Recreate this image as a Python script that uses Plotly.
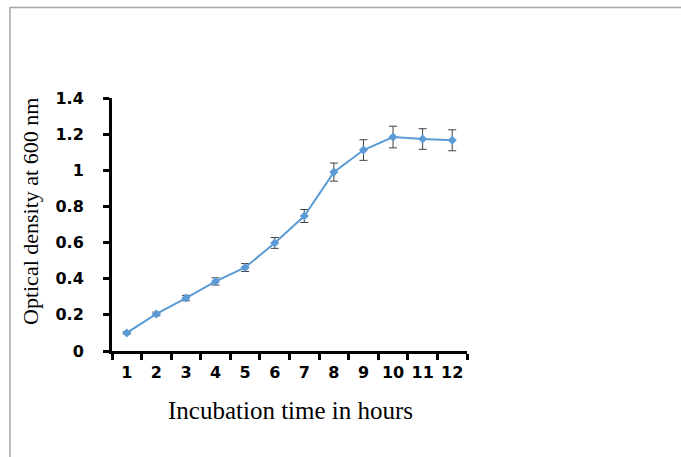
import plotly.graph_objects as go

hours = ["1", "2", "3", "4", "5", "6", "7", "8", "9", "10", "11", "12"]
od600 = [0.10, 0.205, 0.293, 0.385, 0.462, 0.598, 0.747, 0.99, 1.112, 1.184, 1.173, 1.166]
od_err = [0.006, 0.01, 0.015, 0.02, 0.022, 0.03, 0.036, 0.05, 0.057, 0.06, 0.057, 0.058]
y_ticks = [0, 0.2, 0.4, 0.6, 0.8, 1, 1.2, 1.4]
y_ticktext = ["0", "0.2", "0.4", "0.6", "0.8", "1", "1.2", "1.4"]

W, H = 681, 457
L, R, T, B = 112, 214, 98, 106
pw, ph = W - L - R, H - T - B

def px_x(p):
    return (p - L) / pw

def px_y(p):
    return (H - B - p) / ph

fig = go.Figure()
fig.add_trace(go.Scatter(
    x=hours, y=od600,
    mode="lines+markers",
    line=dict(color="#5B9BD5", width=2),
    marker=dict(symbol="diamond", size=7, color="#5B9BD5"),
    error_y=dict(type="data", array=od_err, visible=True,
                 color="#404040", thickness=1, width=4),
    showlegend=False,
))

tick_font = dict(family="DejaVu Sans", size=16, color="black", weight="bold")

fig.update_layout(
    width=W, height=H,
    margin=dict(l=L, r=R, t=T, b=B, autoexpand=False),
    paper_bgcolor="white", plot_bgcolor="white",
    xaxis=dict(
        type="category", automargin=False, tickangle=0,
        range=[-0.5, len(hours) - 0.5],
        showgrid=False, zeroline=False,
        showline=True, linecolor="black", linewidth=3,
        ticks="outside", tickson="boundaries", ticklen=6, tickwidth=3, tickcolor="black",
        tickfont=tick_font,
        ticklabelstandoff=5,
    ),
    yaxis=dict(
        range=[0, 1.4], automargin=False,
        tickvals=y_ticks, ticktext=y_ticktext,
        showgrid=False, zeroline=False,
        showline=True, linecolor="black", linewidth=3,
        ticks="outside", ticklen=6, tickwidth=3, tickcolor="black",
        tickfont=tick_font,
        ticklabelstandoff=16,
    ),
    shapes=[
        dict(type="line", xref="paper", yref="paper",
             x0=px_x(10), x1=px_x(681), y0=px_y(7.5), y1=px_y(7.5),
             line=dict(color="#A6A6A6", width=1.5)),
        dict(type="line", xref="paper", yref="paper",
             x0=px_x(10), x1=px_x(10), y0=px_y(7), y1=px_y(457),
             line=dict(color="#A6A6A6", width=1.5)),
    ],
    annotations=[
        dict(text="Incubation time in hours", xref="paper", yref="paper",
             x=px_x(290), y=px_y(410), showarrow=False,
             xanchor="center", yanchor="middle",
             font=dict(family="Liberation Serif", size=25, color="black")),
        dict(text="Optical density at 600 nm", xref="paper", yref="paper",
             x=px_x(30), y=px_y(212), showarrow=False, textangle=-90,
             xanchor="center", yanchor="middle",
             font=dict(family="Liberation Serif", size=22, color="black")),
    ],
)

fig.write_html("out.html", config={"displayModeBar": False},
               post_script="document.body.style.margin='0';")
